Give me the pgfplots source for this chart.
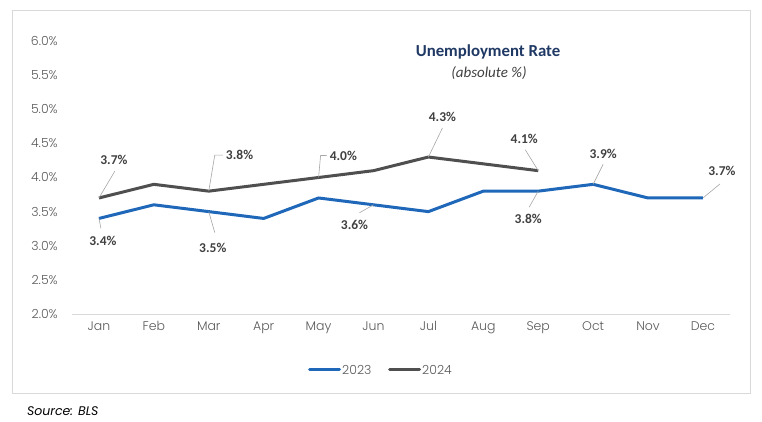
\documentclass[border=0pt]{standalone}
\usepackage{pgfplots}
\pgfplotsset{compat=1.18}
\usepackage{fontspec}
\setmainfont{Poppins}
\IfFontExistsTF{Poppins Light}{\newfontfamily\lightf{Poppins Light}}{\newfontfamily\lightf{Poppins}}
\newfontfamily\calib{Carlito}
\definecolor{blueL}{HTML}{1F67B8}
\definecolor{grayL}{HTML}{4F4F4F}
\definecolor{tickc}{HTML}{595959}
\definecolor{labc}{HTML}{404040}
\definecolor{titc}{HTML}{1F3864}
\definecolor{framec}{HTML}{D9D9D9}
\definecolor{leadc}{HTML}{A6A6A6}
\begin{document}
\begin{tikzpicture}[x=1pt,y=1pt]
\useasboundingbox (0,0) rectangle (762,422);
\draw[framec, line width=0.8pt] (12,29) rectangle (750,412);
\begin{axis}[
  scale only axis,
  width=658.9pt, height=273pt,
  at={(71.5pt,108pt)}, anchor=south west,
  xmin=-0.5, xmax=11.5, ymin=2, ymax=6,
  axis y line=none,
  axis x line*=bottom,
  x axis line style={draw=framec, line width=0.8pt, -},
  xtick={0,...,11},
  xticklabels={Jan,Feb,Mar,Apr,May,Jun,Jul,Aug,Sep,Oct,Nov,Dec},
  major tick length=0pt,
  xticklabel style={font=\lightf\fontsize{12.5}{14}\selectfont, text=tickc, yshift=-4pt},
  ytick=\empty,
  clip=false,
]
\addplot[blueL, line width=3pt, line join=round] coordinates {
 (0,3.4) (1,3.6) (2,3.5) (3,3.4) (4,3.7) (5,3.6) (6,3.5) (7,3.8) (8,3.8) (9,3.9) (10,3.7) (11,3.7)};
\addplot[grayL, line width=3pt, line join=round] coordinates {
 (0,3.7) (1,3.9) (2,3.8) (3,3.9) (4,4.0) (5,4.1) (6,4.3) (7,4.2) (8,4.1)};
% y tick labels
\foreach \v/\t in {2/2.0,2.5/2.5,3/3.0,3.5/3.5,4/4.0,4.5/4.5,5/5.0,5.5/5.5,6/6.0}{
  \edef\tmp{\noexpand\node[anchor=east, text=tickc, font=\noexpand\lightf\noexpand\fontsize{12.5}{14}\noexpand\selectfont, inner sep=0pt] at ([xshift=-13.5pt]axis cs:-0.5,\v) {\t\noexpand\%};}\tmp
}
% data labels with leader lines
\tikzset{dl/.style={font=\calib\bfseries\fontsize{13.5}{15}\selectfont, text=labc, inner sep=0pt}, ld/.style={leadc, line width=0.6pt}}
% 2024 Jan
\draw[ld] (axis cs:0,3.7) -- ++(16pt,27pt);
\node[dl] at ([shift={(15pt,38pt)}]axis cs:0,3.7) {3.7\%};
% 2023 Jan
\draw[ld] (axis cs:0,3.4) -- ++(2pt,-10pt);
\node[dl] at ([shift={(4pt,-22pt)}]axis cs:0,3.4) {3.4\%};
% 2024 Mar
\draw[ld] (axis cs:2,3.8) -- ++(6pt,36pt) -- ++(8pt,0pt);
\node[dl, anchor=west] at ([shift={(17pt,36pt)}]axis cs:2,3.8) {3.8\%};
% 2023 Mar
\draw[ld] (axis cs:2,3.5) -- ++(6pt,-21pt);
\node[dl] at ([shift={(4pt,-36pt)}]axis cs:2,3.5) {3.5\%};
% 2024 May
\draw[ld] (axis cs:4,4.0) -- ++(2pt,22pt) -- ++(6pt,0pt);
\node[dl, anchor=west] at ([shift={(11pt,22pt)}]axis cs:4,4.0) {4.0\%};
% 2023 Jun
\draw[ld] (axis cs:5,3.6) -- ++(-14pt,-8pt);
\node[dl] at ([shift={(-19pt,-20pt)}]axis cs:5,3.6) {3.6\%};
% 2024 Jul
\draw[ld] (axis cs:6,4.3) -- ++(14pt,29pt);
\node[dl] at ([shift={(14pt,40pt)}]axis cs:6,4.3) {4.3\%};
% 2024 Sep
\draw[ld] (axis cs:8,4.1) -- ++(-13pt,21pt);
\node[dl] at ([shift={(-14pt,32pt)}]axis cs:8,4.1) {4.1\%};
% 2023 Sep
\draw[ld] (axis cs:8,3.8) -- ++(-9pt,-16pt);
\node[dl] at ([shift={(-10pt,-28pt)}]axis cs:8,3.8) {3.8\%};
% 2023 Oct
\draw[ld] (axis cs:9,3.9) -- ++(10pt,20pt);
\node[dl] at ([shift={(10pt,30pt)}]axis cs:9,3.9) {3.9\%};
% 2023 Dec
\draw[ld] (axis cs:11,3.7) -- ++(17pt,14pt);
\node[dl] at ([shift={(19pt,27pt)}]axis cs:11,3.7) {3.7\%};
\end{axis}
% title
\node[font=\calib\bfseries\fontsize{16.8}{19}\selectfont, text=titc] at (488,370) {Unemployment Rate};
\node[font=\calib\itshape\fontsize{15}{17}\selectfont, text=labc] at (489,349) {(absolute \%)};
% legend
\draw[blueL, line width=3pt, line cap=round] (309.5,52) -- (339.5,52);
\node[anchor=west, inner sep=0pt, text=tickc, font=\lightf\fontsize{12.5}{14}\selectfont] at (342,52) {2023};
\draw[grayL, line width=3pt, line cap=round] (389.5,52) -- (419.5,52);
\node[anchor=west, inner sep=0pt, text=tickc, font=\lightf\fontsize{12.5}{14}\selectfont] at (422,52) {2024};
% source
\node[anchor=west, inner sep=0pt, font=\itshape\fontsize{12.5}{14}\selectfont] at (27,11) {Source: BLS};
\end{tikzpicture}
\end{document}
